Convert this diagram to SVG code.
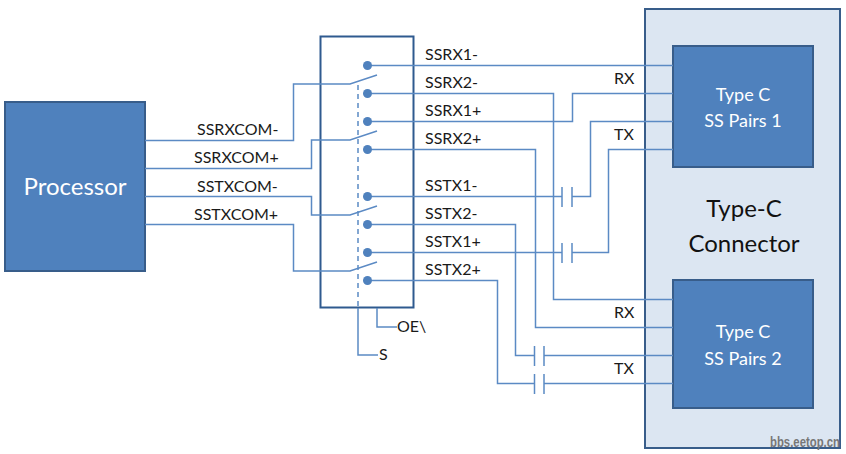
<svg xmlns="http://www.w3.org/2000/svg" width="846" height="454" viewBox="0 0 846 454">
<style>
text{font-family:Lato,"Open Sans","Liberation Sans",sans-serif}
.l{font-size:16px;fill:#1a1a1a}
.w{fill:#fff}
.b{fill:#4f81bd;stroke:#385d8a;stroke-width:2}
.c{fill:none;stroke:#5b8ac4;stroke-width:1.5}
.d{fill:#4f81bd}
</style>
<rect width="846" height="454" fill="#fff"/>
<g id="connector"><rect x="645" y="9" width="195" height="439" fill="#dce6f2" stroke="#385d8a" stroke-width="2"/>
<text x="744" y="217" text-anchor="middle" font-size="24" fill="#111">Type-C</text><text x="744" y="252" text-anchor="middle" font-size="24" fill="#111">Connector</text></g>
<g id="processor"><rect class="b" x="5" y="102" width="140" height="169"/><text class="w" x="75" y="195" text-anchor="middle" font-size="24">Processor</text></g>
<g id="switch"><rect x="320.500" y="36.500" width="93" height="271" fill="#fff" stroke="#2f5a8f" stroke-width="2"/></g>
<g id="pairs1"><rect class="b" x="673" y="46" width="140" height="121"/><text class="w" x="743" y="101" text-anchor="middle" font-size="18">Type C</text><text class="w" x="743" y="127" text-anchor="middle" font-size="18">SS Pairs 1</text></g>
<g id="pairs2"><rect class="b" x="673" y="280" width="140" height="128"/><text class="w" x="743" y="338" text-anchor="middle" font-size="18">Type C</text><text class="w" x="743" y="365" text-anchor="middle" font-size="18">SS Pairs 2</text></g>
<g id="connectors">
<path class="c" d="M145 140.500H293.500V84H350L377 75"/>
<path class="c" d="M145 168.500H311.500V140H350L377 131"/>
<path class="c" d="M145 196.500H311.500V215H350L377 206"/>
<path class="c" d="M145 224.500H293.500V271H350L377 262"/>
<path class="c" stroke-dasharray="5 4" d="M358 85V308"/>
<path class="c" d="M358 308V355H378M377 308V327H397"/>
<path class="c" d="M367 65.500H673M367 93.500H553.500V299.500H673M367 121.500H572.500V93.500H673M367 149.500H535.500V327.500H673"/>
<path class="c" d="M367 196.500H562M572 196.500H590.500V121.500H673M367 252.500H562M572 252.500H608.500V149.500H673"/>
<path class="c" d="M367 224.500H515.500V355.500H534M544 355.500H673M367 280.500H497.500V383.500H534M544 383.500H673"/>
<path class="c" d="M562 187V207M572 187V207M562 243V263M572 243V263M534.500 346V366M544 346V366M534.500 374V394M544 374V394"/>
<g class="d"><circle cx="367.500" cy="65.500" r="4.500"/><circle cx="367.500" cy="93.500" r="4.500"/><circle cx="367.500" cy="121.500" r="4.500"/><circle cx="367.500" cy="149.500" r="4.500"/><circle cx="367.500" cy="196.500" r="4.500"/><circle cx="367.500" cy="224.500" r="4.500"/><circle cx="367.500" cy="252.500" r="4.500"/><circle cx="367.500" cy="280.500" r="4.500"/></g>
</g>
<g id="labels" class="l">
<text x="197" y="135">SSRXCOM-</text><text x="194" y="163">SSRXCOM+</text><text x="197" y="192">SSTXCOM-</text><text x="194" y="220">SSTXCOM+</text>
<text x="425" y="60">SSRX1-</text><text x="425" y="88">SSRX2-</text><text x="425" y="116">SSRX1+</text><text x="425" y="144">SSRX2+</text>
<text x="425" y="191">SSTX1-</text><text x="425" y="219">SSTX2-</text><text x="425" y="247">SSTX1+</text><text x="425" y="275">SSTX2+</text>
<text x="397" y="332">OE\</text><text x="379" y="360">S</text>
<text x="614" y="84">RX</text><text x="614" y="140">TX</text><text x="614" y="318">RX</text><text x="614" y="374">TX</text>
</g>
<text transform="translate(770 447) scale(.757 1)" font-size="15" font-weight="bold" fill="#777" style="font-family:'Liberation Sans',sans-serif">bbs.eetop.cn</text>
</svg>
